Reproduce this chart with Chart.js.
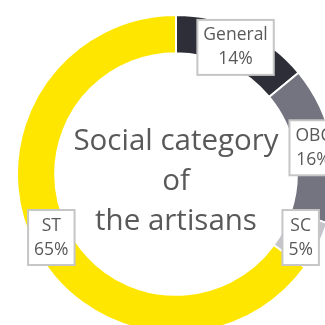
<!DOCTYPE html>
<html>
<head>
<meta charset="utf-8">
<script src="https://cdn.jsdelivr.net/npm/chart.js@4"></script>
<style>
  html, body { margin: 0; padding: 0; background: #fff; overflow: hidden; width: 325px; height: 325px; }
  #wrap { position: absolute; left: 16px; top: 14px; width: 320px; height: 320px; }
</style>
</head>
<body>
<div id="wrap"><canvas id="myChart" width="320" height="320"></canvas></div>
<script>
// datos del gráfico
const categorias = ["General", "OBC", "SC", "ST"];
const porcentajes = [14, 16, 5, 65];
const colores = ["#2e2e38", "#747480", "#c4c4cd", "#ffe600"];
const tituloCentro = ["Social category", "of", "the artisans"];

const FUENTE = "'Open Sans', sans-serif";

// texto central
const textoCentro = {
  id: "textoCentro",
  afterDraw(chart) {
    const ctx = chart.ctx;
    const arc = chart.getDatasetMeta(0).data[0];
    ctx.save();
    ctx.fillStyle = "#595959";
    ctx.font = "29.5px " + FUENTE;
    ctx.textAlign = "center";
    ctx.textBaseline = "middle";
    tituloCentro.forEach((linea, i) => {
      ctx.fillText(linea, arc.x, arc.y - 32 + i * 40);
    });
    ctx.restore();
  }
};

// etiquetas con caja
const etiquetas = {
  id: "etiquetas",
  afterDraw(chart) {
    const ctx = chart.ctx;
    const meta = chart.getDatasetMeta(0);
    ctx.save();
    ctx.font = "17.5px " + FUENTE;
    ctx.textAlign = "center";
    ctx.textBaseline = "middle";
    meta.data.forEach((arc, i) => {
      const pos = arc.tooltipPosition();
      const l1 = categorias[i];
      const l2 = porcentajes[i] + "%";
      const w = Math.max(ctx.measureText(l1).width, ctx.measureText(l2).width) + 12;
      const h = 55;
      ctx.fillStyle = "#fff";
      ctx.fillRect(pos.x - w / 2, pos.y - h / 2, w, h);
      ctx.strokeStyle = "#c6c6c6";
      ctx.lineWidth = 2;
      ctx.strokeRect(pos.x - w / 2, pos.y - h / 2, w, h);
      ctx.fillStyle = "#595959";
      ctx.fillText(l1, pos.x, pos.y - 12);
      ctx.fillText(l2, pos.x, pos.y + 12);
    });
    ctx.restore();
  }
};

new Chart(document.getElementById("myChart").getContext("2d"), {
  type: "doughnut",
  data: {
    labels: categorias,
    datasets: [{
      data: porcentajes,
      backgroundColor: colores,
      borderColor: "#fff",
      borderWidth: 2
    }]
  },
  options: {
    responsive: false,
    animation: false,
    cutout: "76%",
    layout: { padding: 0 },
    plugins: {
      legend: { display: false },
      tooltip: { enabled: false }
    }
  },
  plugins: [textoCentro, etiquetas]
});
</script>
</body>
</html>
